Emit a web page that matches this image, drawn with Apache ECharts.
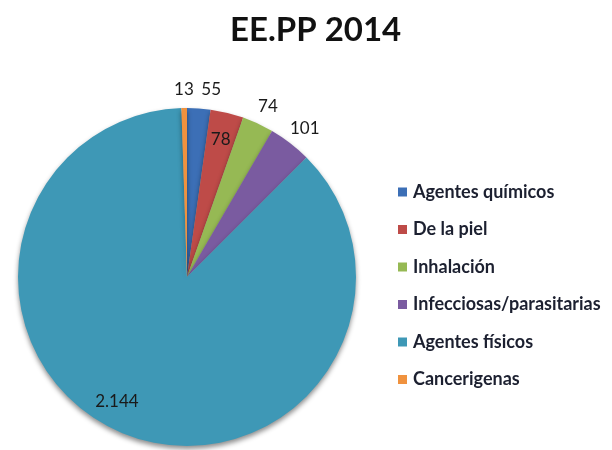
<!DOCTYPE html>
<html>
<head>
<meta charset="utf-8">
<script src="https://cdn.jsdelivr.net/npm/echarts@6/dist/echarts.min.js"></script>
<style>
  html, body { margin: 0; padding: 0; background: #fff; }
  #chart { width: 612px; height: 450px; }
</style>
</head>
<body>
<div id="chart"></div>
<script>
'use strict';

(function () {
   var titleText = 'EE.PP 2014';
   var categories = ['Agentes químicos', 'De la piel', 'Inhalación', 'Infecciosas/parasitarias', 'Agentes físicos', 'Cancerigenas'];
   var cases = [55, 78, 74, 101, 2144, 13];

   // office-like palette, a bit darker like the scan
   var colors = ['#3c6fb6', '#be4b48', '#96b954', '#7a5ba0', '#3e98b6', '#f0923e'];
   // which value labels sit inside their slice, and small hand nudges [dx, dy]
   var insideLabel = [false, true, false, false, true, false];
   var labelNudge = [[11, 0], [0, 0], [2, 0], [3, 0], [-18, -8], [0, 0]];

   var cx = 187, cy = 277, radius = 169;

   function formatNum (v) {
      return String(v).replace(/\B(?=(\d{3})+(?!\d))/g, '.');
   }

   var pieData = categories.map(function (name, i) {
      return { name: name, value: cases[i], itemStyle: { color: colors[i] } };
   });

   var myChart = echarts.init(document.getElementById('chart'));

   var option = {
      animation: false,
      title: {
         text: titleText,
         left: 225,
         top: 9,
         textStyle: { fontFamily: 'Lato', fontWeight: 'bold', fontSize: 33, color: '#111' }
      },
      legend: {
         orient: 'vertical',
         left: 393,
         top: 177,
         icon: 'rect',
         itemWidth: 9,
         itemHeight: 9,
         itemGap: 17.5,
         data: categories,
         textStyle: { fontFamily: 'Lato', fontSize: 18, fontWeight: 'bold', color: '#1c2030', lineHeight: 20, padding: [0, 0, 0, 1] }
      },
      series: [{
         name: 'EE.PP',
         type: 'pie',
         center: [cx, cy],
         radius: radius,
         startAngle: 90,
         clockwise: true,
         data: pieData,
         itemStyle: {
            shadowBlur: 5,
            shadowOffsetY: 3,
            shadowColor: 'rgba(0,0,0,0.45)'
         },
         label: {
            show: true,
            position: 'inside',
            fontFamily: 'Lato',
            fontSize: 17,
            color: '#1a1a1a',
            formatter: function (p) { return formatNum(p.value); }
         },
         labelLine: { show: false },
         labelLayout: function (params) {
            var r = params.labelRect;
            var mx = r.x + r.width / 2 - cx;
            var my = r.y + r.height / 2 - cy;
            var len = Math.sqrt(mx * mx + my * my) || 1;
            var target = insideLabel[params.dataIndex] ? radius * 0.84 : radius + 19;
            var n = labelNudge[params.dataIndex];
            return {
               x: cx + mx / len * target + n[0],
               y: cy + my / len * target + n[1],
               align: 'center',
               verticalAlign: 'middle'
            };
         }
      }]
   };

   myChart.setOption(option);
})();
</script>
</body>
</html>
